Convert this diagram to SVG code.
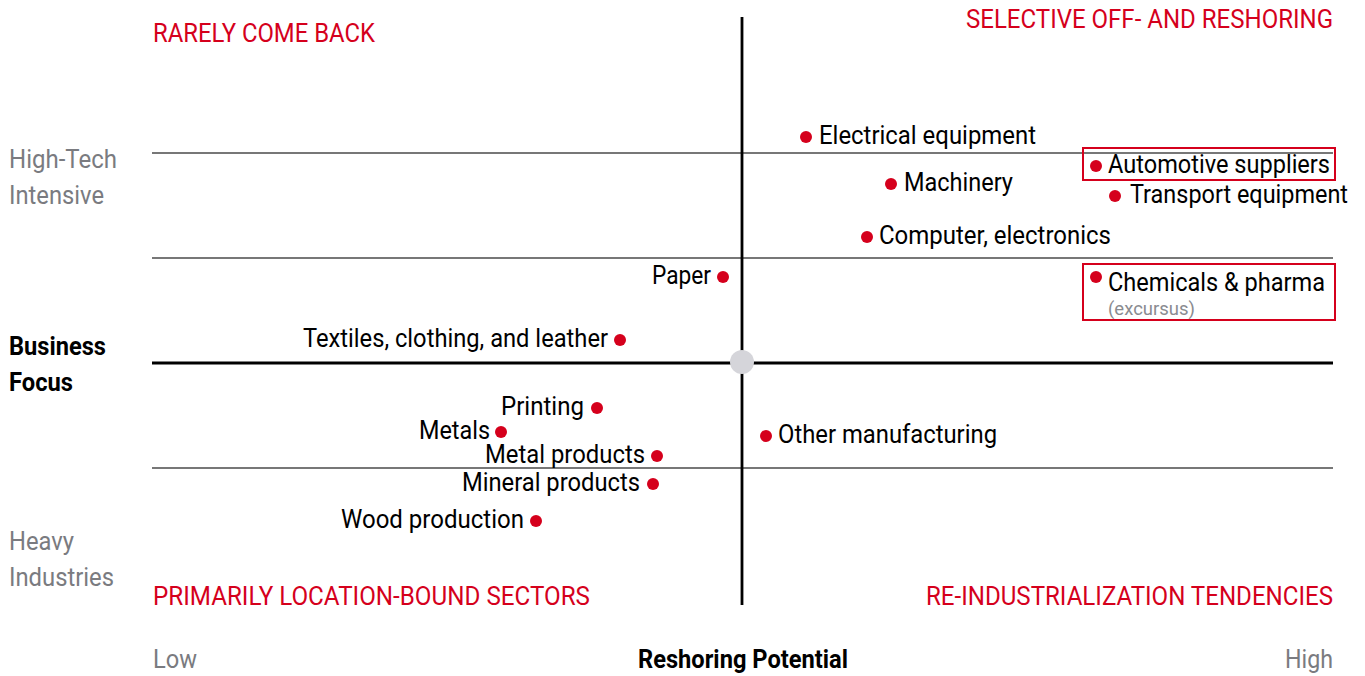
<svg xmlns="http://www.w3.org/2000/svg" width="1365" height="676" viewBox="0 0 1365 676">
<style>
text{font-family:Roboto,"Liberation Sans",sans-serif;}
.lbl{font-size:25px;fill:#000;}
.head{font-size:26px;fill:#d5001c;}
.axis{font-size:25px;fill:#7a7b80;}
.bold{font-size:25px;fill:#000;font-weight:bold;}
.small{font-size:18px;fill:#8a8b90;}
.dot{fill:#d5001c;}
.thin{stroke:#4a4a4a;stroke-width:1.3;}
.thick{stroke:#000;stroke-width:2.8;}
.box{fill:none;stroke:#d5001c;stroke-width:2;}
</style>
<rect width="1365" height="676" fill="#fff"/>
<g id="grid">
<line class="thin" x1="152" y1="153" x2="1333" y2="153"/>
<line class="thin" x1="152" y1="258" x2="1333" y2="258"/>
<line class="thin" x1="152" y1="468" x2="1333" y2="468"/>
<line class="thick" x1="152" y1="363" x2="1333" y2="363"/>
<line class="thick" x1="742" y1="17" x2="742" y2="605"/>
<circle cx="742" cy="362" r="12" fill="#d5d5da"/>
</g>
<g id="quadrants">
<text class="head" x="153" y="42" textLength="222" lengthAdjust="spacingAndGlyphs">RARELY COME BACK</text>
<text class="head" x="966" y="28" textLength="367" lengthAdjust="spacingAndGlyphs">SELECTIVE OFF- AND RESHORING</text>
<text class="head" x="153" y="605" textLength="437" lengthAdjust="spacingAndGlyphs">PRIMARILY LOCATION-BOUND SECTORS</text>
<text class="head" x="926" y="605" textLength="407" lengthAdjust="spacingAndGlyphs">RE-INDUSTRIALIZATION TENDENCIES</text>
</g>
<g id="axes">
<text class="axis" x="9" y="168" textLength="108" lengthAdjust="spacingAndGlyphs">High-Tech</text>
<text class="axis" x="9" y="204" textLength="95" lengthAdjust="spacingAndGlyphs">Intensive</text>
<text class="bold" x="9" y="355" textLength="97" lengthAdjust="spacingAndGlyphs">Business</text>
<text class="bold" x="9" y="391" textLength="64" lengthAdjust="spacingAndGlyphs">Focus</text>
<text class="axis" x="9" y="550" textLength="65" lengthAdjust="spacingAndGlyphs">Heavy</text>
<text class="axis" x="9" y="586" textLength="105" lengthAdjust="spacingAndGlyphs">Industries</text>
<text class="axis" x="153" y="668" textLength="44" lengthAdjust="spacingAndGlyphs">Low</text>
<text class="bold" x="638" y="668" textLength="210" lengthAdjust="spacingAndGlyphs">Reshoring Potential</text>
<text class="axis" x="1285" y="668" textLength="48" lengthAdjust="spacingAndGlyphs">High</text>
</g>
<g id="electrical">
<circle class="dot" cx="806" cy="137" r="6"/>
<text class="lbl" x="819" y="144" textLength="217" lengthAdjust="spacingAndGlyphs">Electrical equipment</text>
</g>
<g id="automotive">
<rect class="box" x="1083" y="148" width="252" height="32"/>
<circle class="dot" cx="1096" cy="166" r="6"/>
<text class="lbl" x="1108" y="173" textLength="222" lengthAdjust="spacingAndGlyphs">Automotive suppliers</text>
</g>
<g id="machinery">
<circle class="dot" cx="891" cy="184" r="6"/>
<text class="lbl" x="904" y="191" textLength="109" lengthAdjust="spacingAndGlyphs">Machinery</text>
</g>
<g id="transport">
<circle class="dot" cx="1115" cy="196" r="6"/>
<text class="lbl" x="1130" y="203" textLength="218" lengthAdjust="spacingAndGlyphs">Transport equipment</text>
</g>
<g id="computer">
<circle class="dot" cx="867" cy="237" r="6"/>
<text class="lbl" x="879" y="244" textLength="232" lengthAdjust="spacingAndGlyphs">Computer, electronics</text>
</g>
<g id="paper">
<circle class="dot" cx="723" cy="277" r="6"/>
<text class="lbl" x="652" y="284" textLength="59" lengthAdjust="spacingAndGlyphs">Paper</text>
</g>
<g id="chemicals">
<rect class="box" x="1083" y="264" width="252" height="56"/>
<circle class="dot" cx="1096" cy="277" r="6"/>
<text class="lbl" x="1108" y="291" textLength="217" lengthAdjust="spacingAndGlyphs">Chemicals &amp; pharma</text>
<text class="small" x="1108" y="315" textLength="87" lengthAdjust="spacingAndGlyphs">(excursus)</text>
</g>
<g id="textiles">
<circle class="dot" cx="620" cy="340" r="6"/>
<text class="lbl" x="303" y="347" textLength="305" lengthAdjust="spacingAndGlyphs">Textiles, clothing, and leather</text>
</g>
<g id="printing">
<circle class="dot" cx="597" cy="408" r="6"/>
<text class="lbl" x="501" y="415" textLength="83" lengthAdjust="spacingAndGlyphs">Printing</text>
</g>
<g id="metals">
<circle class="dot" cx="501" cy="432" r="6"/>
<text class="lbl" x="419" y="439" textLength="71" lengthAdjust="spacingAndGlyphs">Metals</text>
</g>
<g id="other">
<circle class="dot" cx="766" cy="436" r="6"/>
<text class="lbl" x="778" y="443" textLength="219" lengthAdjust="spacingAndGlyphs">Other manufacturing</text>
</g>
<g id="metalproducts">
<circle class="dot" cx="657" cy="456" r="6"/>
<text class="lbl" x="485" y="463" textLength="160" lengthAdjust="spacingAndGlyphs">Metal products</text>
</g>
<g id="mineral">
<circle class="dot" cx="653" cy="484" r="6"/>
<text class="lbl" x="462" y="491" textLength="178" lengthAdjust="spacingAndGlyphs">Mineral products</text>
</g>
<g id="wood">
<circle class="dot" cx="536" cy="521" r="6"/>
<text class="lbl" x="341" y="528" textLength="183" lengthAdjust="spacingAndGlyphs">Wood production</text>
</g>
</svg>
